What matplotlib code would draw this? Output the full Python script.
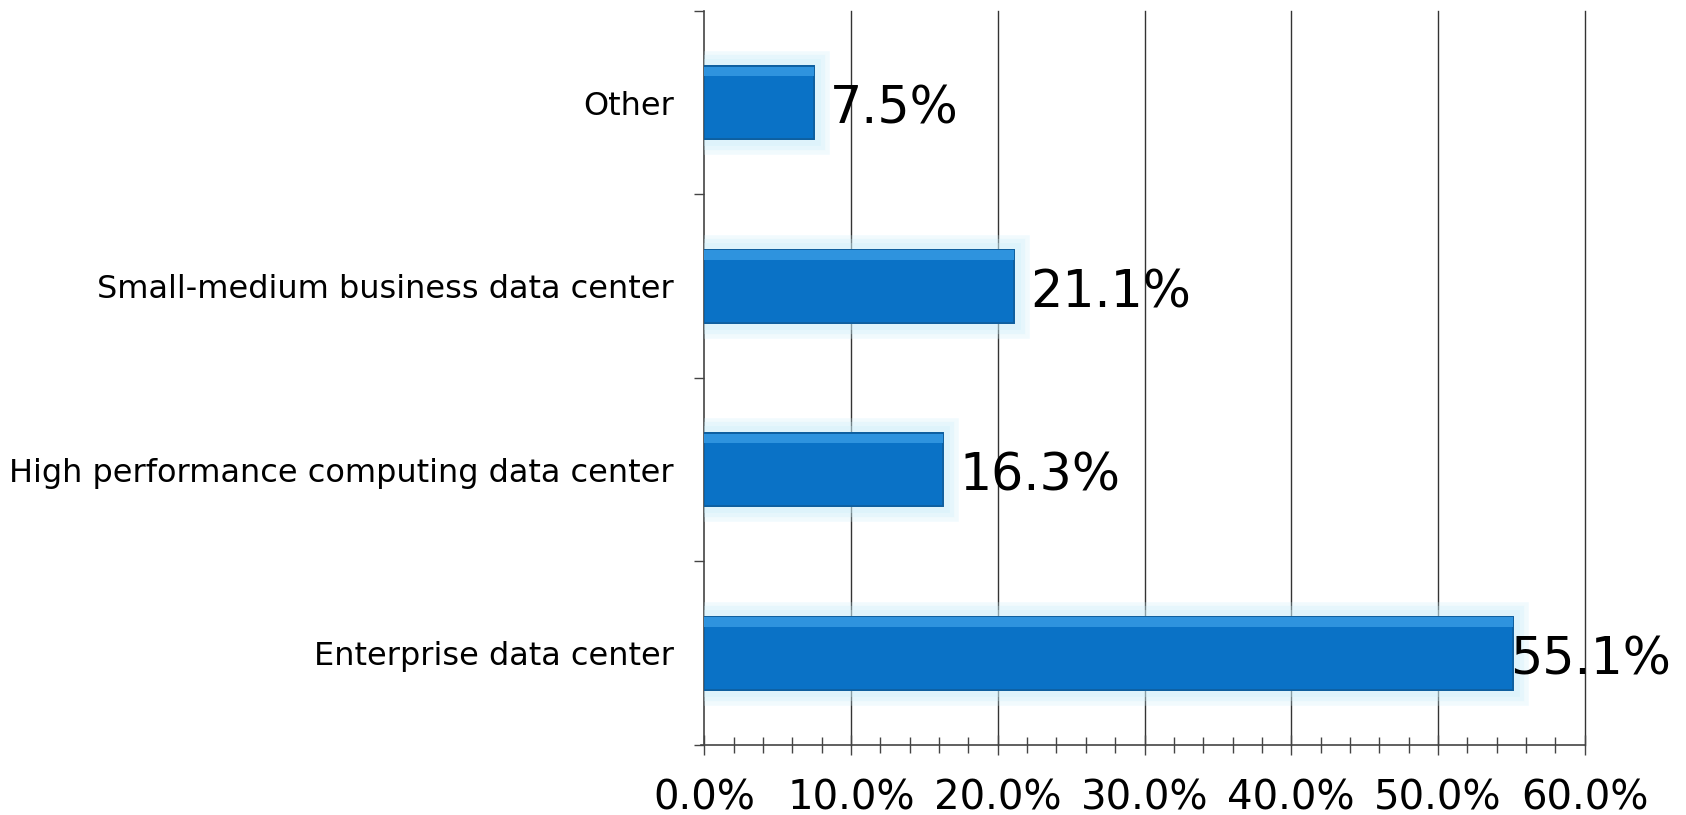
import matplotlib.pyplot as plt
import matplotlib.patheffects as pe
from matplotlib.ticker import MultipleLocator, PercentFormatter

# Data
categories = ["Enterprise data center", "High performance computing data center",
              "Small-medium business data center", "Other"]
shares = [55.1, 16.3, 21.1, 7.5]

plt.rcParams["font.family"] = ["DejaVu Sans"]

fig = plt.figure(figsize=(16.86, 8.15), dpi=100)
ax = fig.add_axes([0.4177, 0.0859, 0.5223, 0.9006])

ypos = list(range(len(categories)))
# soft glow behind the bars
glow = [pe.withStroke(linewidth=w, foreground="#c8eefa", alpha=0.25) for w in (22, 16, 10)]
bars = ax.barh(ypos, shares, height=0.4, color="#0A72C6", edgecolor="#0E5E9E",
               linewidth=1.2, zorder=3)
for b in bars:
    b.set_path_effects(glow + [pe.Normal()])
# bevel highlight along the top of each bar
ax.barh([y + 0.17 for y in ypos], shares, height=0.05, color="#2E93DE",
        linewidth=0, zorder=4)

# value labels
for y, v in zip(ypos, shares):
    off = -3 if v > 50 else 16
    ax.annotate(f"{v:.1f}%", (v, y), xytext=(off, -7), textcoords="offset pixels",
                va="center", ha="left", fontsize=36.5, zorder=5)

ax.set_xlim(0, 60)
ax.set_ylim(-0.5, len(categories) - 0.5)
ax.xaxis.set_major_locator(MultipleLocator(10))
ax.xaxis.set_minor_locator(MultipleLocator(2))
ax.xaxis.set_major_formatter(PercentFormatter(decimals=1))
for x in range(10, 61, 10):
    ax.axvline(x, color="#333333", linewidth=1.0, zorder=0, clip_on=False)

ax.set_yticks([y - 0.5 for y in ypos] + [len(categories) - 0.5])
ax.set_yticklabels([])
ax.set_yticks(ypos, minor=True)
ax.set_yticklabels(categories, minor=True, fontsize=23)
ax.tick_params(axis="y", which="major", length=7, width=1, color="#444444", direction="out")
ax.tick_params(axis="y", which="minor", length=0, pad=22)
ax.tick_params(axis="x", which="major", direction="inout", length=14, width=1,
               color="#444444", labelsize=29, pad=17)
ax.tick_params(axis="x", which="minor", direction="inout", length=12, width=1, color="#444444")

for s in ["top", "right"]:
    ax.spines[s].set_visible(False)
for s in ["left", "bottom"]:
    ax.spines[s].set_color("#444444")
    ax.spines[s].set_linewidth(1.2)
ax.spines["bottom"].set_bounds(-0.2, 60)

plt.savefig("out.png", dpi=100)
